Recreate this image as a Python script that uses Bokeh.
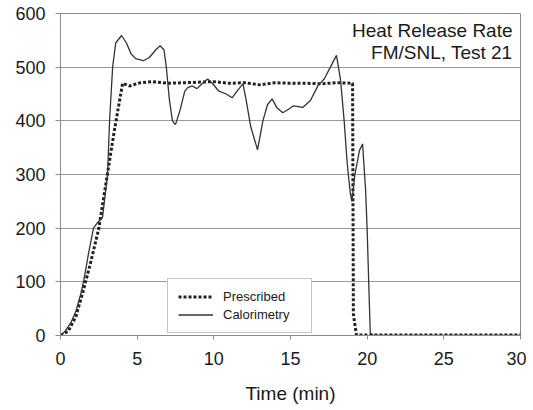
from bokeh.plotting import figure
from bokeh.models import Range1d, Legend, LegendItem, Label, SingleIntervalTicker
from bokeh.embed import file_html
from bokeh.resources import INLINE

# ---- data ----
calor_t = [0, 0.3, 0.7, 1.0, 1.3, 1.5, 1.83, 2.15, 2.4, 2.74, 3.07, 3.2, 3.4, 3.6, 3.98,
           4.3, 4.6, 4.9, 5.4, 5.8, 6.2, 6.5, 6.75, 6.9, 7.1, 7.3, 7.5, 7.8, 8.1, 8.3,
           8.6, 8.9, 9.2, 9.6, 9.9, 10.3, 10.8, 11.2, 11.5, 11.9, 12.1, 12.4, 12.85, 13.2,
           13.5, 13.8, 14.1, 14.5, 14.9, 15.2, 15.8, 16.3, 16.8, 17.2, 17.6, 18.0, 18.27,
           18.5, 18.7, 18.9, 19.0, 19.2, 19.5, 19.7, 19.9, 20.0, 20.2, 20.4, 25, 30]
calor_v = [0, 8, 25, 45, 75, 100, 153, 200, 210, 220, 300, 400, 500, 545, 559,
           545, 525, 516, 512, 518, 532, 540, 532, 500, 440, 400, 393, 420, 455, 462,
           465, 460, 468, 478, 470, 456, 450, 443, 455, 469, 440, 390, 346, 400,
           430, 441, 425, 415, 422, 428, 425, 438, 466, 478, 500, 522, 475,
           400, 320, 265, 250, 300, 345, 357, 270, 196, 5, 0, 0, 0]

presc_t = [0, 0.5, 1.0, 1.5, 2.0, 2.5, 3.0, 3.5, 4.05, 4.5, 5.2, 6.0, 7.0, 8.0, 9.0,
           10.0, 11.0, 12.0, 13.0, 14.0, 15.0, 16.0, 17.0, 18.0, 19.05, 19.1, 19.3, 25, 30]
presc_v = [0, 8, 35, 85, 140, 200, 290, 380, 470, 465, 471, 473, 470, 471, 472,
           473, 470, 471, 467, 471, 470, 470, 469, 471, 470, 40, 1, 1, 1]

x_ticks_step = 5
y_ticks_step = 100
title_lines = ["Heat Release Rate", "FM/SNL, Test 21"]
series_names = ["Prescribed", "Calorimetry"]
x_label = "Time (min)"

FONT = "Liberation Sans"
TXT = "#1a1a1a"
GRAY = "#8c8c8c"

p = figure(width=526, height=410, output_backend="svg", toolbar_location=None,
           x_range=Range1d(0, 30), y_range=Range1d(0, 600))
p.min_border_left = 60
p.min_border_right = 6
p.min_border_top = 13
p.min_border_bottom = 75
p.background_fill_color = "white"
p.border_fill_color = "white"
p.outline_line_color = GRAY
p.outline_line_width = 1

p.xaxis.ticker = SingleIntervalTicker(interval=x_ticks_step, num_minor_ticks=0)
p.yaxis.ticker = SingleIntervalTicker(interval=y_ticks_step, num_minor_ticks=0)
p.xgrid.grid_line_color = None
p.ygrid.grid_line_color = "#9a9a9a"
p.ygrid.grid_line_width = 1

for ax in (p.xaxis, p.yaxis):
    ax.axis_line_color = GRAY
    ax.major_tick_line_color = GRAY
    ax.minor_tick_line_color = None
    ax.major_label_text_font = FONT
    ax.major_label_text_font_size = "18px"
    ax.major_label_text_color = TXT

p.xaxis.major_tick_out = 4
p.xaxis.major_tick_in = 0
p.xaxis.major_label_standoff = 12
p.yaxis.major_tick_out = 5
p.yaxis.major_tick_in = 0
p.yaxis.major_label_standoff = 10

p.xaxis.axis_label = x_label
p.xaxis.axis_label_text_font = FONT
p.xaxis.axis_label_text_font_size = "19px"
p.xaxis.axis_label_text_font_style = "normal"
p.xaxis.axis_label_text_color = TXT
p.xaxis.axis_label_standoff = 15

r_presc = p.line(presc_t, presc_v, line_color="#222222", line_width=3, line_dash="3 2")
r_calor = p.line(calor_t, calor_v, line_color="#333333", line_width=1.3)

legend = Legend(items=[LegendItem(label=series_names[0], renderers=[r_presc]),
                       LegendItem(label=series_names[1], renderers=[r_calor])],
                location=(107, 2), orientation="vertical")
legend.label_text_font = FONT
legend.label_text_font_size = "13px"
legend.label_text_color = TXT
legend.glyph_width = 35
legend.glyph_height = 15
legend.label_height = 15
legend.label_width = 78
legend.label_standoff = 10
legend.padding = 10
legend.spacing = 3
legend.margin = 0
legend.border_line_color = GRAY
legend.border_line_width = 1
legend.background_fill_color = "white"
legend.background_fill_alpha = 1
p.add_layout(legend, "center")

p.add_layout(Label(x=29.48, y=568, text=title_lines[0], text_align="right",
                   text_baseline="middle", text_font=FONT, text_font_size="19px",
                   text_color=TXT))
p.add_layout(Label(x=29.48, y=527, text=title_lines[1], text_align="right",
                   text_baseline="middle", text_font=FONT, text_font_size="19px",
                   text_color=TXT))

open("out.html", "w").write(file_html(p, INLINE))
